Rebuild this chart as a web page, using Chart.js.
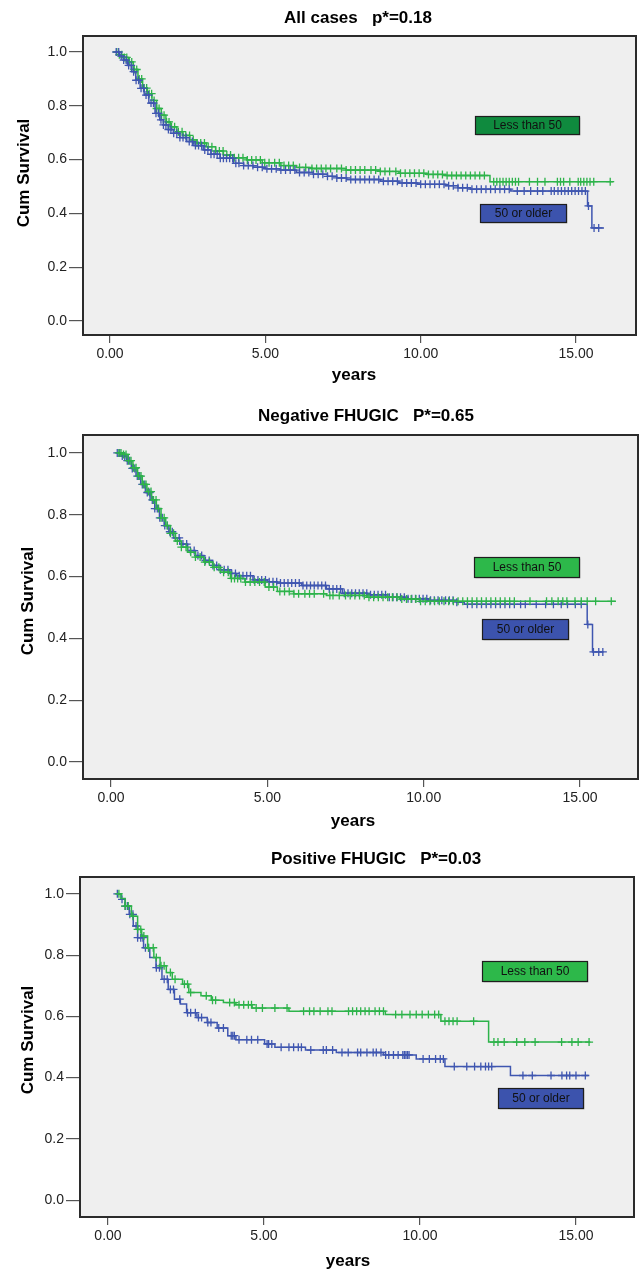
<!DOCTYPE html>
<html>
<head>
<meta charset="utf-8">
<script src="https://cdn.jsdelivr.net/npm/chart.js@4.4.1/dist/chart.umd.min.js"></script>
<style>
  html, body { margin: 0; padding: 0; background: #ffffff; }
  body { width: 640px; height: 1269px; position: relative; overflow: hidden; }
  .panel { position: absolute; left: 0; width: 640px; }
  canvas { display: block; }
</style>
</head>
<body>
<div class="panel" id="p1" style="top:0px;height:390px;"><canvas id="c1" width="640" height="390"></canvas></div>
<div class="panel" id="p2" style="top:399px;height:437px;"><canvas id="c2" width="640" height="437"></canvas></div>
<div class="panel" id="p3" style="top:841px;height:428px;"><canvas id="c3" width="640" height="428"></canvas></div>
<script>
// ---------------- DATA ----------------
const xTickValues = [0, 5, 10, 15];
const xTickLabels = ['0.00', '5.00', '10.00', '15.00'];
const yTickValues = [0, 0.2, 0.4, 0.6, 0.8, 1.0];
const yTickLabels = ['0.0', '0.2', '0.4', '0.6', '0.8', '1.0'];
const groupNames = ['Less than 50', '50 or older'];
const chartTitles = ['All cases   p*=0.18', 'Negative FHUGIC   P*=0.65', 'Positive FHUGIC   P*=0.03'];
const yAxisTitle = 'Cum Survival';
const xAxisTitle = 'years';

// Chart 1: All cases
const allYoungT = [0.16,0.3,0.45,0.6,0.75,0.9,1.05,1.2,1.35,1.5,1.65,1.8,1.95,2.15,2.35,2.57,2.8,3.1,3.4,3.65,4.0,4.4,4.9,5.5,6.0,6.5,7.6,8.7,9.3,10.2,10.8,12.23,16.2];
const allYoungS = [1.0,0.99,0.98,0.963,0.935,0.9,0.866,0.845,0.82,0.79,0.765,0.74,0.722,0.704,0.69,0.673,0.662,0.648,0.632,0.617,0.607,0.599,0.588,0.578,0.571,0.567,0.561,0.556,0.549,0.545,0.541,0.518,0.518];
const allYoungCensor = [0.22,0.3,0.38,0.46,0.54,0.62,0.7,0.78,0.86,0.94,1.02,1.1,1.18,1.26,1.34,1.42,1.5,1.58,1.66,1.74,1.82,1.9,1.98,2.08,2.2,2.32,2.44,2.56,2.68,2.8,2.92,3.04,3.16,3.28,3.4,3.52,3.64,3.76,3.88,4.0,4.14,4.28,4.42,4.56,4.7,4.84,4.98,5.12,5.3,5.45,5.6,5.75,5.9,6.1,6.3,6.5,6.65,6.8,6.95,7.1,7.3,7.45,7.6,7.75,7.9,8.05,8.2,8.4,8.55,8.7,8.85,9.0,9.2,9.35,9.5,9.65,9.8,9.95,10.1,10.25,10.4,10.55,10.7,10.85,11.0,11.15,11.3,11.45,11.6,11.75,11.9,12.05,12.35,12.45,12.55,12.65,12.75,12.85,12.95,13.05,13.15,13.5,13.76,14.0,14.4,14.5,14.6,14.8,15.07,15.15,15.25,15.35,15.45,15.57,16.1];
const allOldT = [0.16,0.3,0.43,0.56,0.7,0.83,0.97,1.1,1.25,1.45,1.6,1.72,1.88,2.04,2.25,2.47,2.7,3.0,3.25,3.54,3.97,4.3,4.61,5.0,5.47,6.0,6.54,7.0,7.3,7.62,8.7,9.3,9.9,10.8,11.2,11.6,12.9,15.37,15.51,15.9];
const allOldS = [1.0,0.985,0.97,0.95,0.927,0.895,0.865,0.84,0.81,0.772,0.748,0.729,0.712,0.698,0.682,0.667,0.652,0.636,0.62,0.605,0.586,0.578,0.572,0.566,0.561,0.552,0.546,0.538,0.532,0.526,0.52,0.513,0.508,0.503,0.495,0.49,0.483,0.428,0.346,0.346];
const allOldCensor = [0.2,0.28,0.36,0.44,0.52,0.6,0.68,0.76,0.84,0.92,1.0,1.08,1.16,1.24,1.32,1.4,1.48,1.56,1.64,1.72,1.8,1.88,1.96,2.05,2.15,2.25,2.35,2.45,2.55,2.65,2.75,2.85,2.95,3.05,3.15,3.25,3.35,3.45,3.55,3.65,3.75,3.85,3.95,4.05,4.15,4.3,4.45,4.6,4.75,4.9,5.05,5.2,5.35,5.5,5.65,5.8,5.95,6.1,6.25,6.4,6.55,6.7,6.85,7.0,7.15,7.3,7.45,7.6,7.75,7.9,8.05,8.2,8.35,8.5,8.65,8.8,8.95,9.1,9.25,9.4,9.55,9.7,9.85,10.0,10.15,10.3,10.45,10.6,10.75,10.9,11.05,11.2,11.35,11.5,11.65,11.8,11.95,12.1,12.25,12.4,12.55,12.7,12.85,13.11,13.33,13.54,13.76,13.93,14.2,14.3,14.42,14.53,14.64,14.75,14.86,14.97,15.08,15.19,15.3,15.4,15.58,15.73];

// Chart 2: Negative FHUGIC
const negYoungT = [0.23,0.4,0.55,0.7,0.85,1.0,1.15,1.3,1.45,1.6,1.75,1.9,2.06,2.25,2.45,2.7,2.97,3.25,3.5,3.82,4.28,4.93,5.32,5.84,6.89,8.19,9.23,9.89,16.15];
const negYoungS = [1.0,0.995,0.975,0.952,0.925,0.898,0.875,0.848,0.82,0.79,0.765,0.74,0.715,0.695,0.679,0.663,0.647,0.63,0.614,0.594,0.582,0.566,0.552,0.544,0.539,0.533,0.527,0.52,0.52];
const negYoungCensor = [0.25,0.32,0.4,0.48,0.56,0.64,0.72,0.8,0.88,0.96,1.04,1.12,1.2,1.28,1.36,1.44,1.52,1.6,1.7,1.8,1.9,2.0,2.12,2.25,2.4,2.55,2.7,2.85,3.0,3.15,3.3,3.45,3.6,3.75,3.85,3.95,4.05,4.15,4.3,4.45,4.6,4.75,4.9,5.05,5.2,5.4,5.55,5.7,5.85,6.0,6.2,6.35,6.5,6.8,7.0,7.1,7.3,7.5,7.65,7.8,7.95,8.1,8.25,8.4,8.55,8.7,8.85,9.0,9.15,9.3,9.45,9.6,9.75,9.9,10.05,10.2,10.35,10.5,10.65,10.8,10.95,11.1,11.25,11.4,11.55,11.7,11.85,12.0,12.15,12.3,12.45,12.6,12.75,12.9,13.4,13.93,14.1,14.3,14.45,14.58,14.84,15.04,15.23,15.5,16.0];
const negOldT = [0.17,0.35,0.5,0.65,0.8,0.95,1.1,1.25,1.4,1.55,1.7,1.85,2.0,2.2,2.45,2.7,2.97,3.25,3.5,3.8,4.02,4.54,5.0,5.32,6.1,6.89,7.4,8.19,8.84,9.5,10.15,11.06,11.3,15.23,15.4,15.75];
const negOldS = [1.0,0.99,0.975,0.95,0.925,0.898,0.872,0.848,0.82,0.79,0.765,0.745,0.725,0.705,0.684,0.668,0.652,0.636,0.622,0.61,0.603,0.589,0.583,0.579,0.571,0.56,0.546,0.541,0.533,0.528,0.523,0.517,0.51,0.445,0.356,0.356];
const negOldCensor = [0.2,0.28,0.36,0.44,0.52,0.6,0.68,0.76,0.84,0.92,1.0,1.08,1.16,1.24,1.32,1.4,1.48,1.56,1.64,1.72,1.8,1.88,1.96,2.06,2.18,2.3,2.42,2.54,2.66,2.78,2.9,3.02,3.14,3.26,3.38,3.5,3.62,3.74,3.86,3.98,4.1,4.22,4.34,4.46,4.58,4.7,4.82,4.94,5.06,5.18,5.3,5.42,5.54,5.66,5.78,5.9,6.02,6.14,6.26,6.38,6.5,6.62,6.74,6.86,6.98,7.1,7.22,7.34,7.46,7.58,7.7,7.82,7.94,8.06,8.18,8.3,8.42,8.54,8.66,8.78,8.9,9.02,9.14,9.26,9.38,9.5,9.62,9.74,9.86,9.98,10.1,10.22,10.34,10.46,10.58,10.7,10.82,10.94,11.06,11.4,11.55,11.7,11.85,12.0,12.15,12.3,12.45,12.6,12.75,12.9,13.1,13.25,13.6,13.9,14.15,14.4,14.6,14.85,15.04,15.25,15.43,15.6,15.73];

// Chart 3: Positive FHUGIC
const posYoungT = [0.29,0.42,0.55,0.75,0.95,1.08,1.27,1.47,1.67,1.87,2.06,2.39,2.59,2.98,3.31,3.7,4.1,4.62,5.8,8.89,10.67,12.2,15.46];
const posYoungS = [1.0,0.985,0.96,0.927,0.884,0.862,0.824,0.792,0.765,0.743,0.721,0.705,0.678,0.667,0.653,0.645,0.638,0.627,0.617,0.606,0.584,0.516,0.516];
const posYoungCensor = [0.35,0.55,0.65,0.8,0.95,1.05,1.15,1.3,1.45,1.55,1.7,1.8,2.0,2.15,2.45,2.55,2.65,3.15,3.35,3.45,3.9,4.05,4.2,4.35,4.5,4.6,4.75,4.95,5.35,5.74,6.27,6.46,6.6,6.8,7.05,7.18,7.71,7.84,7.97,8.1,8.24,8.37,8.56,8.7,8.83,9.22,9.42,9.68,9.88,10.07,10.27,10.47,10.6,10.8,10.93,11.06,11.19,11.72,12.37,12.5,12.7,13.1,13.36,13.69,14.54,14.87,15.07,15.42];
const posOldT = [0.26,0.42,0.55,0.68,0.81,0.95,1.14,1.34,1.54,1.73,1.93,2.13,2.32,2.52,2.85,3.18,3.5,3.84,4.1,5.02,5.35,6.33,7.32,8.83,9.88,10.8,12.9,15.4];
const posOldS = [1.0,0.982,0.96,0.933,0.895,0.857,0.824,0.792,0.759,0.721,0.688,0.656,0.64,0.612,0.596,0.58,0.562,0.537,0.524,0.51,0.499,0.49,0.482,0.474,0.461,0.436,0.407,0.407];
const posOldCensor = [0.3,0.45,0.55,0.62,0.7,0.8,0.9,0.95,1.05,1.12,1.2,1.3,1.55,1.65,1.8,1.9,2.0,2.1,2.3,2.55,2.65,2.8,2.9,3.0,3.2,3.3,3.55,3.7,3.95,4.0,4.05,4.2,4.45,4.6,4.8,5.1,5.15,5.25,5.55,5.8,5.95,6.1,6.2,6.5,6.9,7.0,7.2,7.5,7.7,8.0,8.1,8.3,8.5,8.6,8.75,8.9,9.0,9.15,9.3,9.45,9.5,9.55,9.6,9.65,10.1,10.3,10.5,10.65,10.75,11.1,11.5,11.75,11.95,12.1,12.2,12.3,13.3,13.6,14.2,14.55,14.7,14.8,15.0,15.3];

// ---------------- STYLE ----------------
const FONT = "'Liberation Sans', Arial, Helvetica, sans-serif";
const GREEN = '#2db34a';
const BLUE = '#3f56b0';

function curvePoints(T, S) { return T.map((t, i) => ({ x: t, y: S[i] })); }
function survAt(T, S, t) {
  let v = S[0];
  for (let i = 0; i < T.length; i++) { if (T[i] <= t) v = S[i]; }
  return v;
}
function censorPoints(T, S, C) { return C.map(t => ({ x: t, y: survAt(T, S, t) })); }

const decoPlugin = {
  id: 'deco',
  beforeDraw(chart, args, o) {
    const { ctx, chartArea: a } = chart;
    ctx.save();
    ctx.fillStyle = '#ffffff';
    ctx.fillRect(0, 0, chart.width, chart.height);
    ctx.fillStyle = '#efefef';
    ctx.fillRect(a.left, a.top, a.right - a.left, a.bottom - a.top);
    ctx.restore();
  },
  afterDatasetsDraw(chart, args, o) {
    const { ctx } = chart;
    const xs = chart.scales.x, ys = chart.scales.y;
    ctx.save();
    (o.boxes || []).forEach(b => {
      const x0 = Math.round(xs.getPixelForValue(b.x0)) + 0.5;
      const x1 = Math.round(xs.getPixelForValue(b.x1)) + 0.5;
      const yc = ys.getPixelForValue(b.yc);
      const y0 = Math.round(yc - b.h / 2) + 0.5;
      ctx.fillStyle = 'rgba(0,0,0,0.18)';
      ctx.fillRect(x0 + 1, y0 + 1, x1 - x0, b.h);
      ctx.fillStyle = b.fill;
      ctx.fillRect(x0, y0, x1 - x0, b.h);
      ctx.strokeStyle = '#1e1e1e';
      ctx.lineWidth = 1.2;
      ctx.strokeRect(x0, y0, x1 - x0, b.h);
      ctx.fillStyle = '#111';
      ctx.font = '12px ' + FONT;
      ctx.textAlign = 'center';
      ctx.textBaseline = 'middle';
      ctx.fillText(b.text, (x0 + x1) / 2, y0 + b.h / 2 + 0.5);
    });
    ctx.restore();
  },
  afterDraw(chart, args, o) {
    const { ctx, chartArea: a } = chart;
    ctx.save();
    ctx.strokeStyle = '#2b2b2b';
    ctx.lineWidth = 2;
    ctx.strokeRect(a.left, a.top, a.right - a.left, a.bottom - a.top);
    ctx.fillStyle = '#000';
    ctx.textAlign = 'center';
    ctx.textBaseline = 'middle';
    ctx.font = 'bold 17px ' + FONT;
    ctx.fillText(o.title, o.titleX, o.titleY);
    ctx.fillText(o.xTitle, o.xTitleX, o.xTitleY);
    ctx.translate(o.yTitleX, o.yTitleY);
    ctx.rotate(-Math.PI / 2);
    ctx.fillText(o.yTitle, 0, 0);
    ctx.restore();
  }
};

function makeChart(id, cfg) {
  const order = cfg.order;
  const series = [
    { T: cfg.youngT, S: cfg.youngS, C: cfg.youngC, color: GREEN },
    { T: cfg.oldT, S: cfg.oldS, C: cfg.oldC, color: BLUE }
  ];
  const datasets = [];
  order.forEach(k => {
    const s = series[k];
    datasets.push({
      data: curvePoints(s.T, s.S), showLine: true, stepped: 'before',
      borderColor: s.color, borderWidth: 1.5, pointRadius: 0, fill: false
    });
    datasets.push({
      data: censorPoints(s.T, s.S, s.C), showLine: false,
      pointStyle: 'cross', pointRadius: 4, pointBorderWidth: 1.3,
      borderColor: s.color, backgroundColor: s.color
    });
  });
  return new Chart(document.getElementById(id), {
    type: 'scatter',
    data: { datasets },
    plugins: [decoPlugin],
    options: {
      responsive: false, animation: false, devicePixelRatio: 1,
      layout: { autoPadding: false, padding: { top: cfg.areaTop, right: 640 - cfg.areaRight, bottom: 0, left: 0 } },
      plugins: {
        legend: { display: false }, tooltip: { enabled: false }, title: { display: false },
        deco: {
          title: cfg.title, titleX: cfg.titleX, titleY: cfg.titleY,
          xTitle: xAxisTitle, xTitleX: cfg.xTitleX, xTitleY: cfg.xTitleY,
          yTitle: yAxisTitle, yTitleX: cfg.yTitleX, yTitleY: cfg.yTitleY,
          boxes: cfg.boxes
        }
      },
      scales: {
        x: {
          type: 'linear', position: 'bottom', min: cfg.xMin, max: cfg.xMax,
          afterBuildTicks: s => { s.ticks = xTickValues.map(v => ({ value: v })); },
          afterFit: s => { s.height = cfg.height - cfg.areaBottom; },
          ticks: { callback: (v, i) => xTickLabels[i], font: { size: 14, family: FONT }, color: '#222', padding: 3, maxRotation: 0, autoSkip: false },
          grid: { drawOnChartArea: false, drawTicks: true, tickLength: 8, color: '#555', lineWidth: 1.2 },
          border: { display: false }
        },
        y: {
          type: 'linear', position: 'left', min: cfg.yMin, max: cfg.yMax,
          afterBuildTicks: s => { s.ticks = yTickValues.map(v => ({ value: v })); },
          afterFit: s => { s.width = cfg.areaLeft; },
          ticks: { callback: (v, i) => yTickLabels[i], font: { size: 14, family: FONT }, color: '#222', padding: 2, autoSkip: false },
          grid: { drawOnChartArea: false, drawTicks: true, tickLength: 14, color: '#555', lineWidth: 1.2 },
          border: { display: false }
        }
      }
    }
  });
}

makeChart('c1', {
  height: 390, areaTop: 36, areaBottom: 335, areaLeft: 83, areaRight: 636,
  xMin: -0.869, xMax: 16.93, yMin: -0.052, yMax: 1.0595,
  title: chartTitles[0], titleX: 358, titleY: 18,
  xTitleX: 354, xTitleY: 375, yTitleX: 24, yTitleY: 173,
  youngT: allYoungT, youngS: allYoungS, youngC: allYoungCensor,
  oldT: allOldT, oldS: allOldS, oldC: allOldCensor, order: [1, 0],
  boxes: [
    { x0: 11.75, x1: 15.1, yc: 0.73, h: 18, fill: '#0f8a3e', text: groupNames[0] },
    { x0: 11.9, x1: 14.68, yc: 0.40, h: 18, fill: '#3c53ad', text: groupNames[1] }
  ]
});
makeChart('c2', {
  height: 437, areaTop: 36, areaBottom: 380, areaLeft: 83, areaRight: 638,
  xMin: -0.896, xMax: 16.855, yMin: -0.055, yMax: 1.058,
  title: chartTitles[1], titleX: 366, titleY: 17,
  xTitleX: 353, xTitleY: 422, yTitleX: 28, yTitleY: 202,
  youngT: negYoungT, youngS: negYoungS, youngC: negYoungCensor,
  oldT: negOldT, oldS: negOldS, oldC: negOldCensor, order: [0, 1],
  boxes: [
    { x0: 11.61, x1: 14.97, yc: 0.63, h: 20, fill: '#2db84a', text: groupNames[0] },
    { x0: 11.86, x1: 14.61, yc: 0.43, h: 20, fill: '#3c53ad', text: groupNames[1] }
  ]
});
makeChart('c3', {
  height: 428, areaTop: 36, areaBottom: 376, areaLeft: 80, areaRight: 634,
  xMin: -0.897, xMax: 16.86, yMin: -0.055, yMax: 1.055,
  title: chartTitles[2], titleX: 376, titleY: 18,
  xTitleX: 348, xTitleY: 420, yTitleX: 28, yTitleY: 199,
  youngT: posYoungT, youngS: posYoungS, youngC: posYoungCensor,
  oldT: posOldT, oldS: posOldS, oldC: posOldCensor, order: [0, 1],
  boxes: [
    { x0: 11.99, x1: 15.35, yc: 0.749, h: 20, fill: '#2db84a', text: groupNames[0] },
    { x0: 12.5, x1: 15.22, yc: 0.335, h: 20, fill: '#3c53ad', text: groupNames[1] }
  ]
});
</script>
</body>
</html>
